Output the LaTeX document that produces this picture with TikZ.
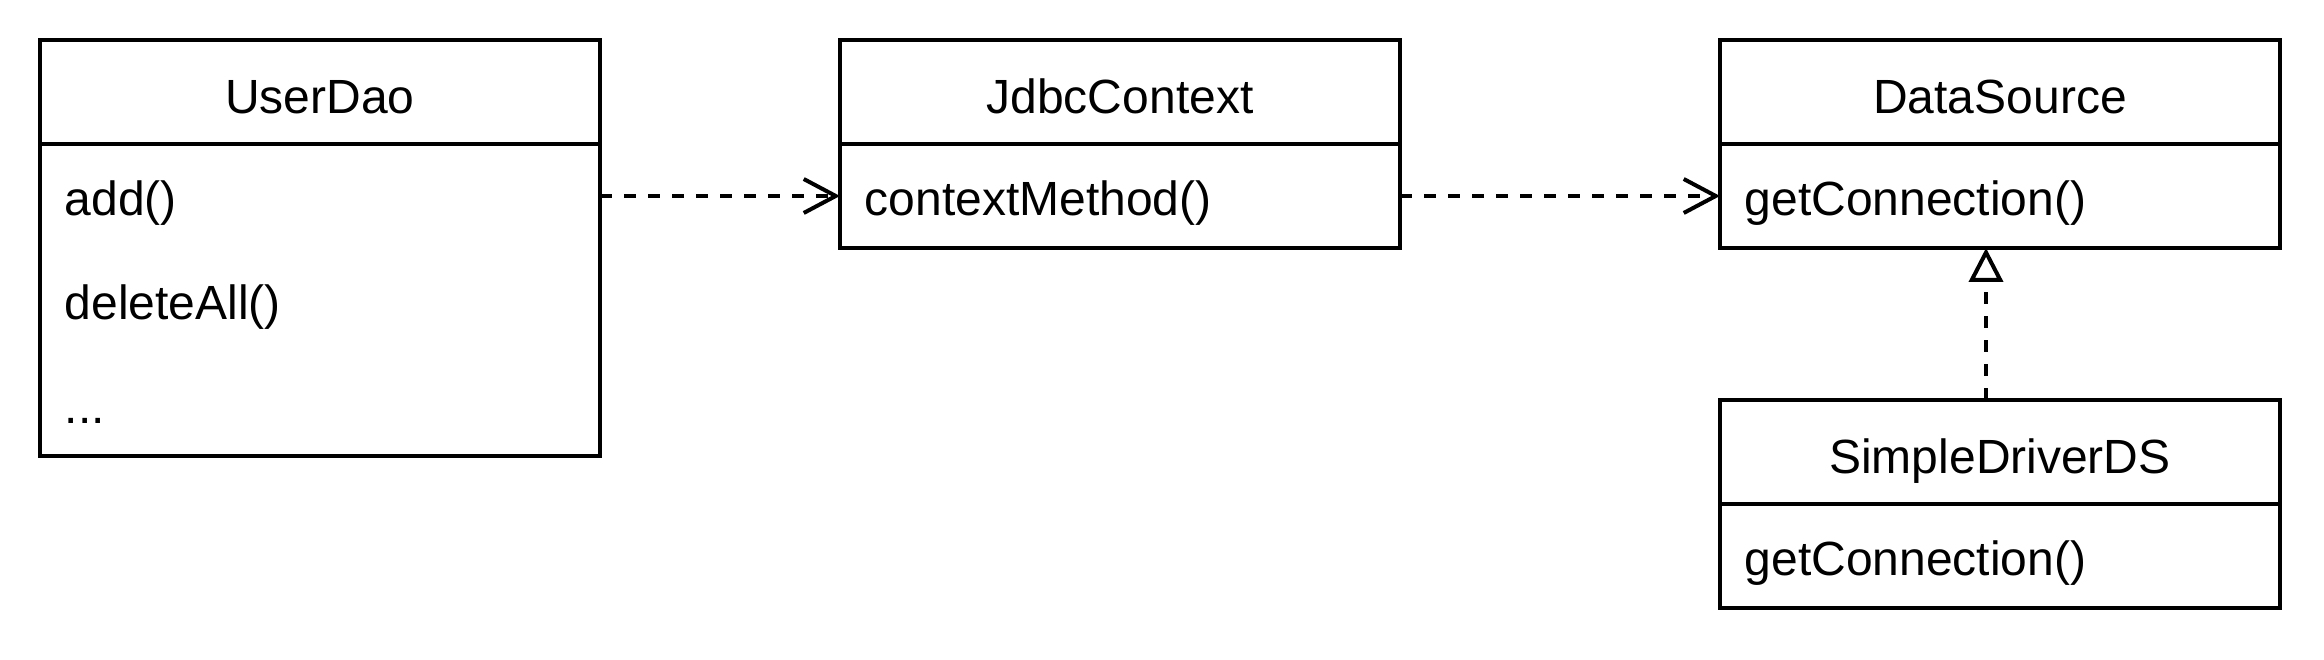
\documentclass[tikz,border=0pt]{standalone}
\usepackage{fontspec}
\setmainfont{Liberation Sans}
\usetikzlibrary{arrows.meta,positioning}

\begin{document}
\begin{tikzpicture}[
    x=1pt, y=1pt,
    node distance=60pt,
    head/.style={rectangle, draw, line width=1pt, minimum width=140pt, minimum height=26pt, outer sep=0pt, inner sep=0pt, text height=13pt, text depth=2.2pt, font=\fontsize{12}{14}\selectfont},
    body/.style={head, minimum height=#1},
    body/.default=26pt,
    method/.style={anchor=west, inner sep=0pt, text height=12.3pt, text depth=2.6pt, font=\fontsize{12}{14}\selectfont},
    dep/.style={-{Straight Barb[length=8pt, width=8.5pt]}, line width=1pt, dash pattern=on 3pt off 3pt},
    impl/.style={-{Triangle[open, length=8.5pt, width=8.5pt]}, line width=1pt, dash pattern=on 3pt off 3pt}
]
\useasboundingbox (0,0) rectangle (581,-165);

% UserDao
\node[head] (udhead) at (80,-23) {UserDao};
\node[body=78pt, below=0pt of udhead] (udbody) {};
\node[method] (add) at ([xshift=6pt, yshift=-13pt]udbody.north west) {add()};
\node[method] (deleteall) at ([yshift=-26pt]add.west) {deleteAll()};
\node[method] (more) at ([yshift=-26pt]deleteall.west) {...};

% JdbcContext
\node[head, right=60pt of udhead] (jchead) {JdbcContext};
\node[body, below=0pt of jchead] (jcbody) {};
\node[method] (ctxmethod) at ([xshift=6pt]jcbody.west) {contextMethod()};

% DataSource
\node[head, right=80pt of jchead] (dshead) {DataSource};
\node[body, below=0pt of dshead] (dsbody) {};
\node[method] (dsconn) at ([xshift=6pt]dsbody.west) {getConnection()};

% SimpleDriverDS
\node[head, below=38pt of dsbody] (sdhead) {SimpleDriverDS};
\node[body, below=0pt of sdhead] (sdbody) {};
\node[method] (sdconn) at ([xshift=6pt]sdbody.west) {getConnection()};

% Arrows
\draw[dep] (add -| udbody.east) -- (jcbody.west);
\draw[dep] (jcbody.east) -- (dsbody.west);
\draw[impl] ([xshift=-3.5pt]sdhead.north) -- ([xshift=-3.5pt]dsbody.south);

\end{tikzpicture}
\end{document}
